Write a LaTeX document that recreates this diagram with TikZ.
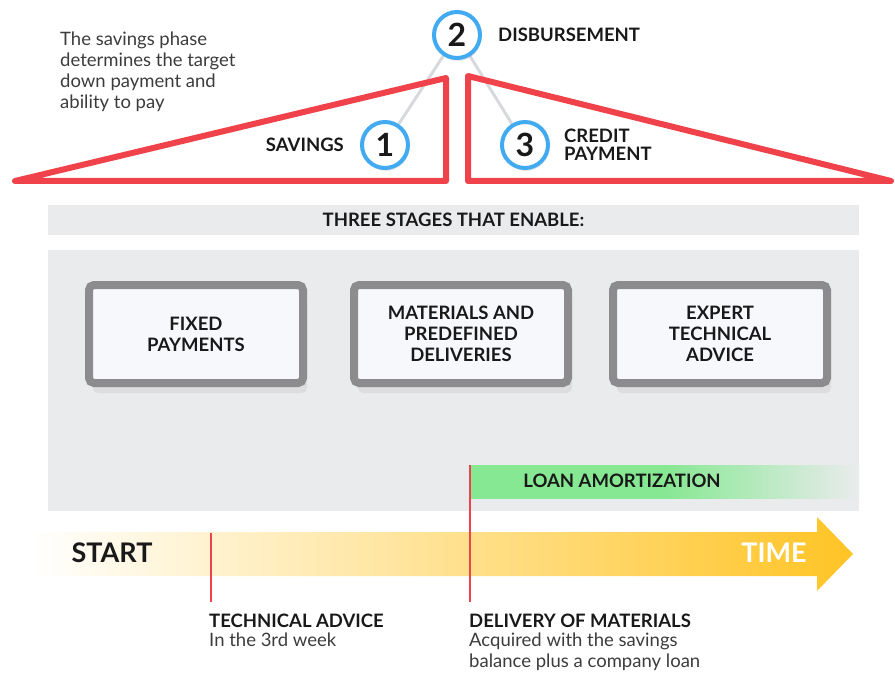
\documentclass[tikz,border=0pt]{standalone}
\usepackage{fontspec}
\setmainfont{Lato}
\usetikzlibrary{positioning, shadows}
\definecolor{triRed}{RGB}{240,66,74}
\definecolor{ringBlue}{RGB}{66,170,240}
\definecolor{linkGray}{RGB}{215,217,221}
\definecolor{panelGray}{RGB}{234,235,237}
\definecolor{boxGray}{RGB}{140,140,143}
\definecolor{boxFill}{RGB}{247,248,252}
\definecolor{loanGreen}{RGB}{134,232,146}
\definecolor{arrowYellow}{RGB}{255,196,37}
\definecolor{ink}{RGB}{25,25,25}
\definecolor{softInk}{RGB}{60,60,62}
\pgfdeclarehorizontalshading{loanfade}{100bp}{color(0bp)=(loanGreen); color(25bp)=(loanGreen); color(50bp)=(loanGreen); color(75bp)=(panelGray); color(100bp)=(panelGray)}
\pgfdeclarelayer{bg}
\pgfsetlayers{bg,main}
\tikzset{
  roof/.style={draw=triRed, line width=6pt, line join=round},
  link/.style={draw=linkGray, line width=3pt},
  ring/.style={circle, draw=ringBlue, line width=4pt, fill=white, minimum size=46pt, inner sep=0pt,
    font=\bfseries\fontsize{32}{32}\selectfont, text=ink,
    drop shadow={opacity=0.18, shadow xshift=1pt, shadow yshift=-3pt}},
  phase/.style={font=\bfseries\fontsize{18.5}{18}\selectfont, text=ink, inner sep=0pt, align=left},
  note/.style={font=\fontsize{18.5}{21}\selectfont, text=softInk, inner sep=0pt, align=left},
  band/.style={fill=panelGray, minimum width=811pt, minimum height=30pt, inner sep=0pt,
    font=\bfseries\fontsize{18.5}{20}\selectfont, text=ink},
  stage/.style={draw=boxGray, line width=8pt, fill=boxFill, rounded corners=5pt,
    minimum width=214pt, minimum height=98pt, align=center, text=ink,
    font=\bfseries\fontsize{18.5}{21}\selectfont,
    drop shadow={opacity=0.12, shadow xshift=4pt, shadow yshift=-10pt}},
  big/.style={font=\bfseries\fontsize{27}{27}\selectfont, inner sep=0pt},
  milestone/.style={draw=triRed, line width=1.5pt}
}

\begin{document}
\begin{tikzpicture}[x=1pt, y=-1pt]
    \useasboundingbox (0,0) rectangle (895,674);
    % roof with the three phases
    \node[ring] (c2) at (457,35) {2};
    \node[ring] (c1) at (385,145) {1};
    \node[ring] (c3) at (525,145) {3};
    \begin{pgfonlayer}{bg}
        \draw[link] (c2) -- (c1);
        \draw[link] (c2) -- (c3);
        \draw[roof] (15,181) -- (446,78) -- (446,181) -- cycle;
        \draw[roof] (468,76) -- (891,181) -- (468,181) -- cycle;
    \end{pgfonlayer}
    \node[phase, right=16pt of c2] (disb) {DISBURSEMENT};
    \node[phase, left=16pt of c1] (sav) {SAVINGS};
    \node[phase, right=14pt of c3] (cred) {CREDIT\\PAYMENT};
    \node[note, anchor=north west] (intro) at (60,32) {The savings phase\\determines the target\\down payment and\\ability to pay};

    % stages
    \node[band] (enable) at (453.5,220) {THREE STAGES THAT ENABLE:};
    \fill[panelGray] (48,250) rectangle (859,511);
    \node[stage] (fixed) at (196,334) {FIXED\\PAYMENTS};
    \node[stage] (mat) at (461,334) {MATERIALS AND\\PREDEFINED\\DELIVERIES};
    \node[stage] (expert) at (720,334) {EXPERT\\TECHNICAL\\ADVICE};
    \shade[shading=loanfade] (470,465) rectangle (859,498);
    \node[phase] (loan) at (622,481) {LOAN AMORTIZATION};

    % timeline
    \shade[left color=white, right color=arrowYellow] (30,532) -- (817,532) -- (817,517) -- (853,554)
        -- (817,591) -- (817,576) -- (30,576) -- cycle;
    \node[big, text=ink] (start) at (112,553) {START};
    \node[big, text=white] (time) at (774,553) {TIME};
    \coordinate (t0) at (211,533);
    \coordinate (t1) at (211,602);
    \coordinate (d0) at (470,465);
    \coordinate (d1) at (470,602);
    \draw[milestone] (t0) -- (t1);
    \draw[milestone] (d0) -- (d1);
    \node[phase, anchor=west] (tech) at (209,621) {TECHNICAL ADVICE};
    \node[note, anchor=north west] (week) at ([yshift=-5pt]tech.south west) {In the 3rd week};
    \node[phase, anchor=west] (deliv) at (469,621) {DELIVERY OF MATERIALS};
    \node[note, anchor=north west] (loaninfo) at ([yshift=-5pt]deliv.south west) {Acquired with the savings\\balance plus a company loan};
\end{tikzpicture}
\end{document}
